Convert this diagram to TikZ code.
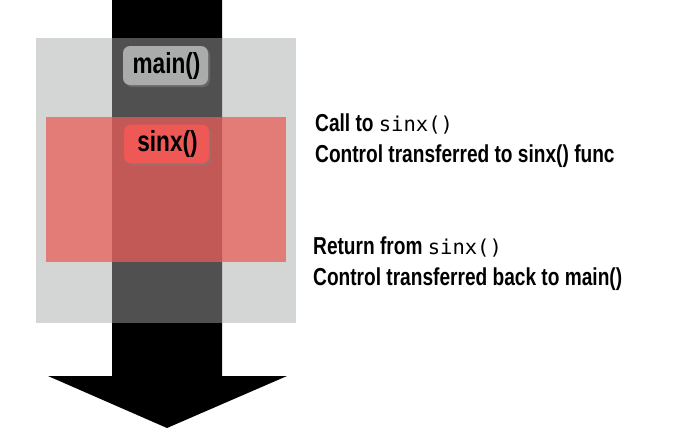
\documentclass[tikz,border=0pt]{standalone}
\usepackage{fontspec}
\setmainfont{Liberation Sans}[FakeStretch=0.78]
\newfontfamily\codefont{DejaVu Sans Mono}
\usetikzlibrary{shadows}
\definecolor{boxgray}{RGB}{166,168,167}
\definecolor{boxred}{RGB}{233,93,89}
\definecolor{tagred}{RGB}{238,88,85}
\definecolor{taggray}{RGB}{170,172,171}
\newcommand{\code}[1]{{\codefont\mdseries\fontsize{20.5}{22}\selectfont #1}}
\tikzset{
  x=1pt,y=-1pt,
  tag/.style={rounded corners=7pt, minimum width=85pt, minimum height=39pt, inner sep=0pt,
    font=\fontsize{29}{32}\selectfont\bfseries, drop shadow={shadow xshift=2pt,shadow yshift=-2pt,opacity=0.5}},
  label/.style={anchor=base west, inner sep=0pt, font=\fontsize{24.5}{26}\selectfont\bfseries}
}
\begin{document}
\begin{tikzpicture}
\useasboundingbox (0,0) rectangle (685,429);
\fill[black] (112,0) -- (222,0) -- (222,376) -- (287,376) -- (167,428) -- (48,376) -- (112,376) -- cycle;
\fill[boxgray, opacity=0.48] (36,38) rectangle (296,323);
\fill[boxred, opacity=0.75] (46,117) rectangle (286,262);
\node[tag, fill=taggray] (main) at (165.5,65.5) {\hspace{2pt}main()};
\node[tag, fill=tagred] (sinx) at (166.5,144) {\hspace{2pt}sinx()};
\node[label] (call) at (315,131) {Call to \code{sinx()}};
\node[label] (ctl1) at (315,162) {Control transferred to sinx() func};
\node[label] (ret) at (313,254) {Return from \code{sinx()}};
\node[label] (ctl2) at (313,285) {Control transferred back to main()};
\end{tikzpicture}
\end{document}
